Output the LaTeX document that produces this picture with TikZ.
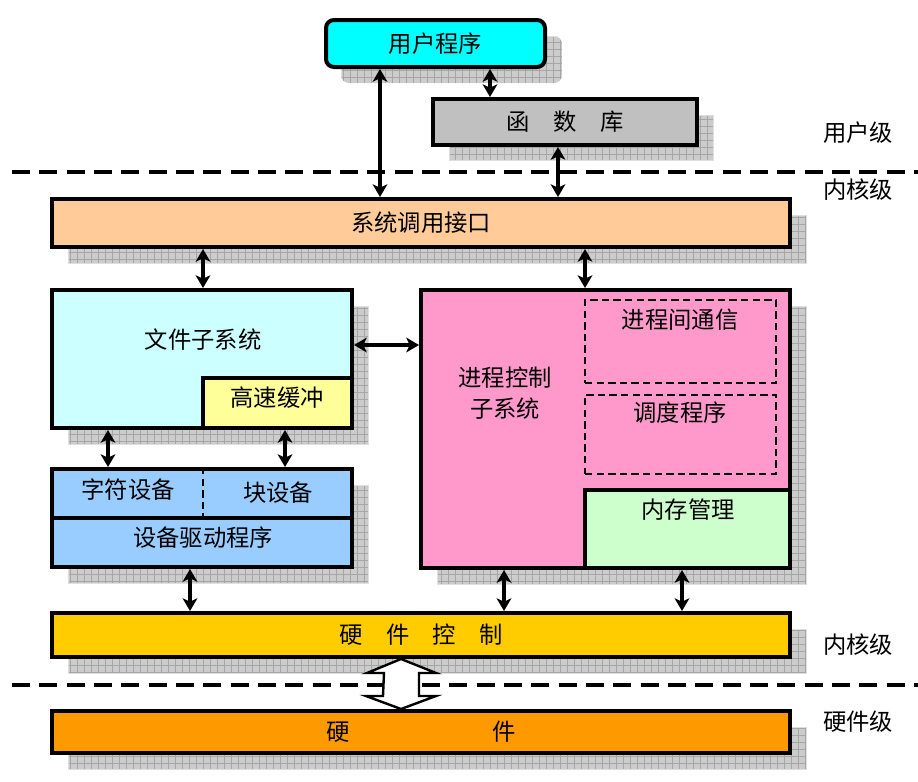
\documentclass[tikz,border=0pt]{standalone}
\usepackage{fontspec}
\setmainfont{Noto Sans CJK SC}
\usetikzlibrary{arrows.meta,fit,calc}
\definecolor{cUser}{HTML}{00FFFF}
\definecolor{cLib}{HTML}{C0C0C0}
\definecolor{cSys}{HTML}{FFCC99}
\definecolor{cFile}{HTML}{CCFFFF}
\definecolor{cBuf}{HTML}{FFFF99}
\definecolor{cProc}{HTML}{FF99CC}
\definecolor{cMem}{HTML}{CCFFCC}
\definecolor{cDev}{HTML}{99CCFF}
\definecolor{cHwc}{HTML}{FFCC00}
\definecolor{cHw}{HTML}{FF9900}
\newcommand\shadowrect[4]{%
  \fill[gray!40] (#1,#2) rectangle (#3,#4);
  \draw[gray!70, line width=0.35pt, step=5.25pt] (#1,#2) grid (#3,#4);
  \draw[gray!25, line width=0.6pt] (#1,#2) rectangle (#3,#4);}
\begin{document}
\begin{tikzpicture}[x=0.75pt,y=-0.75pt,
  box/.style={draw=black,line width=3pt,inner sep=0pt},
  txt/.style={inner sep=0pt,font=\fontsize{17.5}{20}\selectfont},
  dbl/.style={{Stealth[length=9.5pt,width=11pt,inset=2.5pt]}-{Stealth[length=9.5pt,width=11pt,inset=2.5pt]},line width=2.3pt},
  lvl/.style={line width=3pt,dash pattern=on 13.5pt off 7pt},
  dsh/.style={line width=1.5pt,dash pattern=on 5.5pt off 3.2pt}]
\useasboundingbox (0,0) rectangle (918,782);
\fill[white] (0,0) rectangle (918,782);

% level separators
\coordinate (l1a) at (12,172); \coordinate (l1b) at (918,172);
\coordinate (l2a) at (12,685); \coordinate (l2b) at (918,685);
\draw[lvl] (l1a) -- (l1b);
\draw[lvl] (l2a) -- (l2b);

% shadows
\begin{scope}
\clip[rounded corners=6pt] (341,36) rectangle (562,83);
\shadowrect{341}{36}{562}{83}
\end{scope}
\shadowrect{449}{115}{713}{160}
\shadowrect{68}{215}{806}{263}
\shadowrect{68}{306}{368}{444}
\shadowrect{437}{306}{806}{584}
\shadowrect{68}{485}{368}{583}
\shadowrect{68}{629}{806}{673}
\shadowrect{68}{727}{806}{769}

% boxes
\node[box, fill=cUser, rounded corners=6pt, fit={(326,20) (545,67)}] (up) {};
\node[txt] (upt) at (up.center) {用户程序};
\node[box, fill=cLib, fit={(433,99) (697,145)}] (lib) {};
\node[txt] (libt) at (lib.center) {函\hspace{1em}数\hspace{1em}库};
\node[box, fill=cSys, fit={(52,199) (790,247)}] (sys) {};
\node[txt] (syst) at (sys.center) {系统调用接口};

\node[box, fill=cFile, fit={(52,290) (352,428)}] (file) {};
\node[txt] (filet) at (203,340) {文件子系统};
\node[box, fill=cBuf, fit={(203,378) (352,428)}] (buf) {};
\node[txt] (buft) at (277,398) {高速缓冲};

\node[box, fill=cProc, fit={(421,290) (790,568)}] (proc) {};
\node[txt, align=center, font=\fontsize{17.5}{23}\selectfont] (proct) at (505,393) {进程控制\\子系统};
\node[draw, dsh, inner sep=0pt, fit={(585,300) (776,383)}] (ipc) {};
\node[txt] (ipct) at (680,320) {进程间通信};
\node[draw, dsh, inner sep=0pt, fit={(585,395) (776,474)}] (sch) {};
\node[txt] (scht) at (680,413) {调度程序};
\node[box, fill=cMem, fit={(585,490) (790,568)}] (mem) {};
\node[txt] (memt) at (688,510) {内存管理};

\node[box, fill=cDev, fit={(52,469) (352,518)}] (dev) {};
\node[box, fill=cDev, fit={(52,518) (352,567)}] (drv) {};
\node[txt] (drvt) at (203,538) {设备驱动程序};
\node[txt] (chr) at (128,490) {字符设备};
\node[txt] (blk) at (278,493) {块设备};
\coordinate (divx) at (203,0);
\draw[dsh, line width=1.8pt] (dev.north -| divx) -- (dev.south -| divx);

\node[box, fill=cHwc, fit={(52,613) (790,657)}] (hwc) {};
\node[txt] (hwct) at (hwc.center) {硬\hspace{1em}件\hspace{1em}控\hspace{1em}制};
\node[box, fill=cHw, fit={(52,711) (790,753)}] (hw) {};
\node[txt] (hwt) at (hw.center) {硬\hspace{6.1em}件};

% level labels
\node[txt] (lu) at (858,133) {用户级};
\node[txt] (lk1) at (858,190) {内核级};
\node[txt] (lk2) at (858,645) {内核级};
\node[txt] (lh) at (858,722) {硬件级};

% connectors
\coordinate (xa) at (380,0);
\coordinate (xb) at (490,0);
\coordinate (xc) at (558,0);
\coordinate (xd) at (203,0);
\coordinate (xe) at (585,0);
\coordinate (xf) at (108,0);
\coordinate (xg) at (285,0);
\coordinate (xh) at (190,0);
\coordinate (xi) at (504,0);
\coordinate (xj) at (682,0);
\coordinate (ya) at (0,345);
\draw[dbl] (up.south -| xa) -- (sys.north -| xa);
\draw[dbl] (up.south -| xb) -- (lib.north -| xb);
\draw[dbl] (lib.south -| xc) -- (sys.north -| xc);
\draw[dbl] (sys.south -| xd) -- (file.north -| xd);
\draw[dbl] (sys.south -| xe) -- (proc.north -| xe);
\draw[dbl] (file.east |- ya) -- (proc.west |- ya);
\draw[dbl] (file.south -| xf) -- (dev.north -| xf);
\draw[dbl] (buf.south -| xg) -- (dev.north -| xg);
\draw[dbl] (drv.south -| xh) -- (hwc.north -| xh);
\draw[dbl] (proc.south -| xi) -- (hwc.north -| xi);
\draw[dbl] (mem.south -| xj) -- (hwc.north -| xj);

% hollow double arrow between hardware control and hardware
\coordinate (hx) at (401,0);
\coordinate (ht) at (hwc.south -| hx);
\coordinate (hb) at (hw.north -| hx);
\draw[fill=white, line width=1.8pt, line join=miter]
  (ht) -- ++(35,14) -- ++(-17,0) -- ($(hb)+(18,-13)$) -- ++(17,0) -- (hb)
  -- ++(-35,-13) -- ++(17,0) -- ($(ht)+(-17,14)$) -- ++(-17,0) -- cycle;
\end{tikzpicture}
\end{document}
